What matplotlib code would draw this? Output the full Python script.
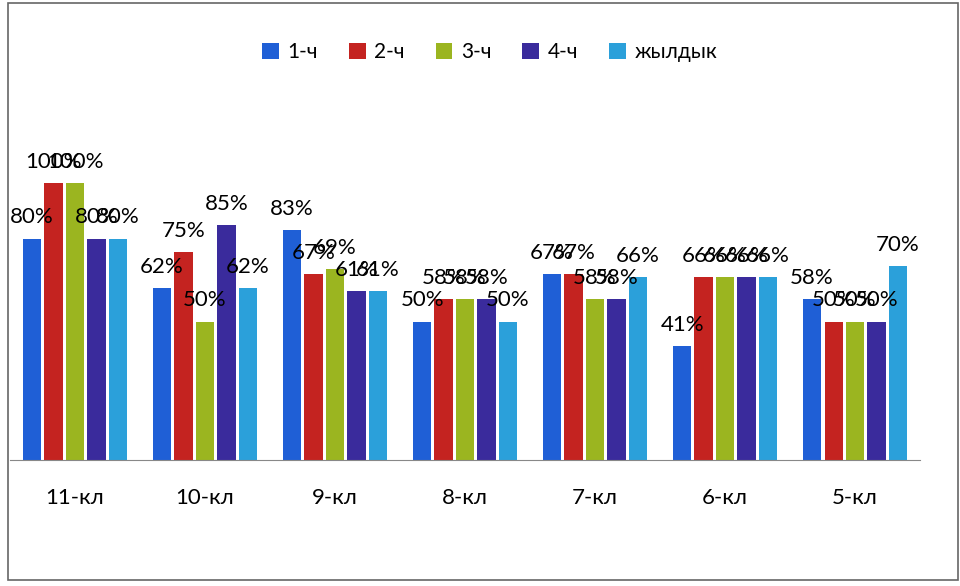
import numpy as np
from matplotlib import pyplot as plt
from matplotlib.patches import Rectangle

# data (percent)
classes = ['11-кл', '10-кл', '9-кл', '8-кл', '7-кл', '6-кл', '5-кл']
series = ['1-ч', '2-ч', '3-ч', '4-ч', 'жылдык']
q1 = [80, 62, 83, 50, 67, 41, 58]
q2 = [100, 75, 67, 58, 67, 66, 50]
q3 = [100, 50, 69, 58, 58, 66, 50]
q4 = [80, 85, 61, 58, 58, 66, 50]
year = [80, 62, 61, 50, 66, 66, 70]
colors = ['#1f5fd6', '#c42320', '#9bb520', '#3a2b9c', '#2ba0da']

plt.rcParams['font.family'] = ['Lato', 'DejaVu Sans']

fig = plt.figure(figsize=(9.6, 5.86), dpi=100)
ax = fig.add_axes([0.0104, 0.215, 0.948, 0.567])

x = np.arange(len(classes))
pitch = 0.165
width = 0.14
for i, (name, vals) in enumerate(zip(series, [q1, q2, q3, q4, year])):
    pos = x + (i - 2) * pitch
    ax.bar(pos, [v / 100 for v in vals], width, color=colors[i], label=name)
    for px, v in zip(pos, vals):
        ax.annotate('%d%%' % v, (px, v / 100), xytext=(0, 8), textcoords='offset points',
                    ha='center', va='bottom', fontsize=16, color='black')

ax.set_xlim(-0.5, len(classes) - 0.5)
ax.set_ylim(0, 1.2)
ax.set_xticks(x)
ax.set_xticklabels(classes, fontsize=16)
ax.tick_params(axis='x', length=0, pad=20)
ax.set_yticks([])
for s in ['top', 'right', 'left']:
    ax.spines[s].set_visible(False)
ax.spines['bottom'].set_color('#888888')

fig.legend(loc='upper center', bbox_to_anchor=(0.51, 0.96), ncol=5, frameon=False,
           fontsize=15, handlelength=0.8, handleheight=0.8, handletextpad=0.4, columnspacing=1.5)

fig.patches.append(Rectangle((0.008, 0.01), 0.99, 0.985, transform=fig.transFigure,
                             fill=False, edgecolor='#666666', linewidth=1.2))

fig.savefig('out.png', dpi=100)
